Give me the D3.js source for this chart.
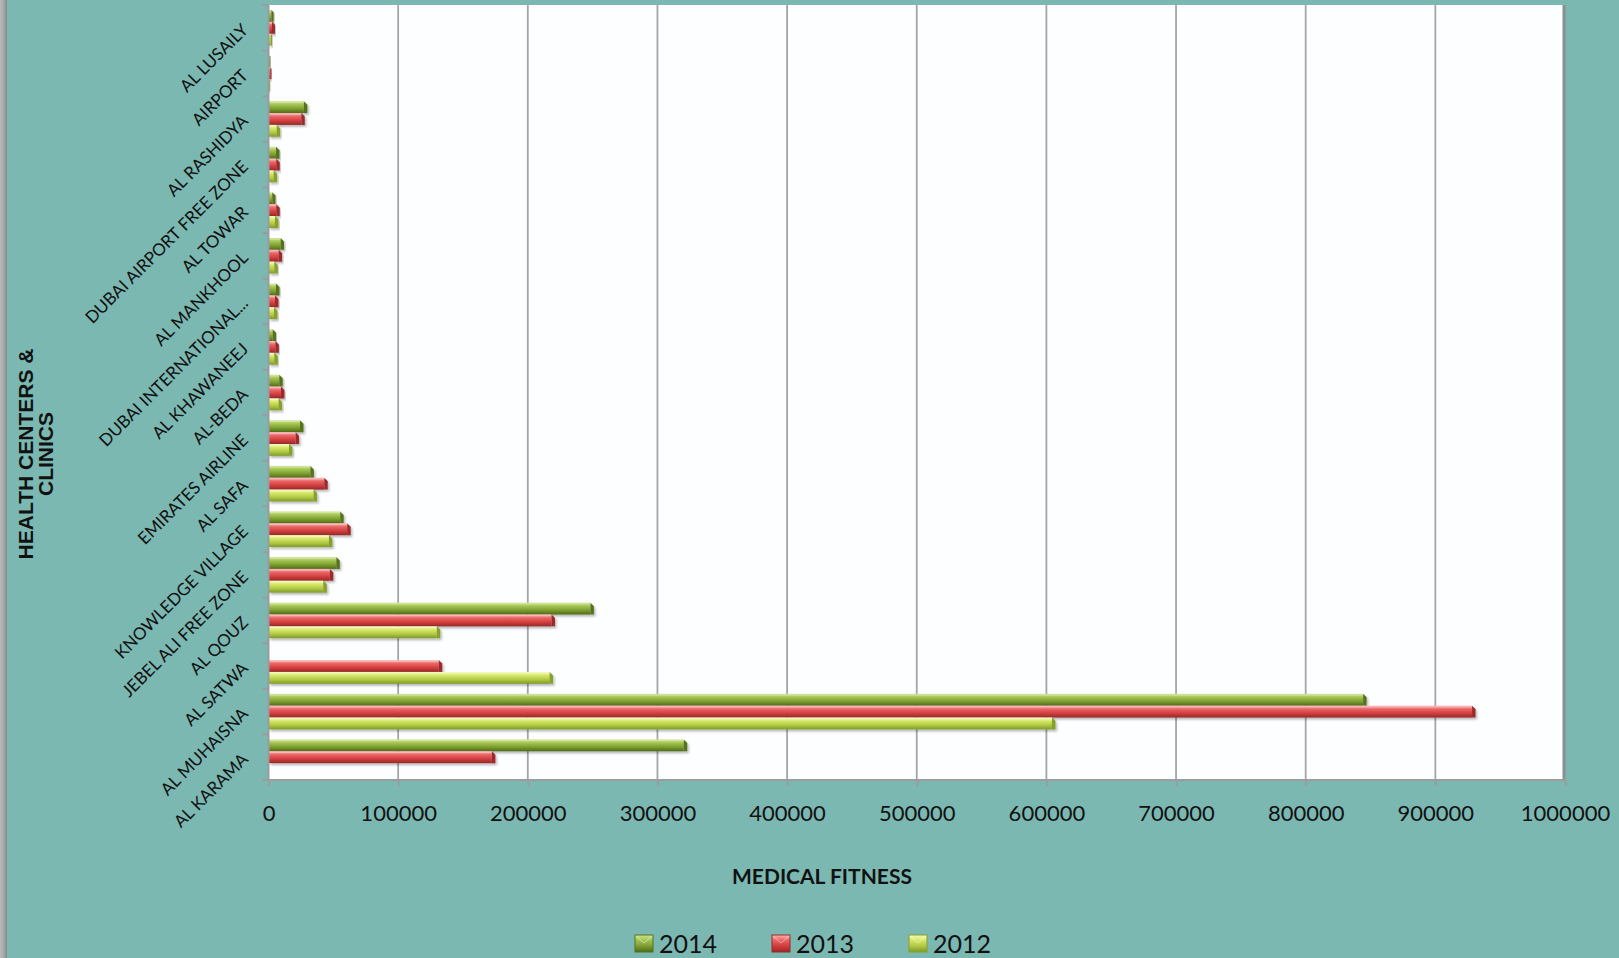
<!DOCTYPE html>
<html>
<head>
<meta charset="utf-8">
<script src="https://cdn.jsdelivr.net/npm/d3@7/dist/d3.min.js"></script>
<style>
  html, body { margin: 0; padding: 0; background: #7bb8b2; }
  svg { display: block; }
</style>
</head>
<body>
<script>
// ---------- DATA ----------
const categories = ["AL LUSAILY","AIRPORT","AL RASHIDYA","DUBAI AIRPORT FREE ZONE","AL TOWAR","AL MANKHOOL","DUBAI INTERNATIONAL...","AL KHAWANEEJ","AL-BEDA","EMIRATES AIRLINE","AL SAFA","KNOWLEDGE VILLAGE","JEBEL ALI FREE ZONE","AL QOUZ","AL SATWA","AL MUHAISNA","AL KARAMA"];
const seriesNames = ["2014","2013","2012"];
const values2014 = [4000, 1500, 30000, 8500, 5400, 12000, 8500, 5900, 11000, 27000, 35000, 58000, 55000, 251000, 0, 847000, 323000];
const values2013 = [5000, 2300, 28000, 8700, 8700, 10500, 7700, 8000, 12300, 23600, 45700, 63400, 50000, 221000, 134000, 931000, 175000];
const values2012 = [2800, 1300, 9000, 6700, 7700, 7200, 6900, 7200, 10500, 18500, 37500, 49300, 45000, 132500, 219500, 607000, 0];
const xTicks = [0,100000,200000,300000,400000,500000,600000,700000,800000,900000,1000000];
const xTitle = "MEDICAL FITNESS";
const yTitleLines = ["HEALTH CENTERS &", "CLINICS"];

const seriesValues = { "2014": values2014, "2013": values2013, "2012": values2012 };

// ---------- LAYOUT ----------
const W = 1619, H = 958;
const plot = { left: 268.5, right: 1565, top: 5, bottom: 780 };

const svg = d3.select("body").append("svg").attr("width", W).attr("height", H);
const defs = svg.append("defs");

// gradients
const palettes = {
  "2014": ["#cfe38a", "#a3c452", "#7b9d30", "#4f6b19"],
  "2013": ["#fbb2b2", "#ea6363", "#d13d3d", "#962828"],
  "2012": ["#f8fbb8", "#d6e766", "#afc845", "#7f9a26"]
};
const capColors = { "2014": "#56731c", "2013": "#9c2b2b", "2012": "#86a02a" };
Object.entries(palettes).forEach(([k, c]) => {
  const g = defs.append("linearGradient").attr("id", "g" + k)
    .attr("x1", 0).attr("y1", 0).attr("x2", 0).attr("y2", 1);
  g.append("stop").attr("offset", "0%").attr("stop-color", c[0]);
  g.append("stop").attr("offset", "30%").attr("stop-color", c[1]);
  g.append("stop").attr("offset", "65%").attr("stop-color", c[2]);
  g.append("stop").attr("offset", "100%").attr("stop-color", c[3]);
});
const sh = defs.append("filter").attr("id", "shadow").attr("x", "-5%").attr("y", "-30%").attr("width", "115%").attr("height", "190%");
sh.append("feDropShadow").attr("dx", 1.5).attr("dy", 2).attr("stdDeviation", 1.3)
  .attr("flood-color", "#000").attr("flood-opacity", 0.28);

const stripe = defs.append("linearGradient").attr("id", "stripe").attr("x1", 0).attr("x2", 1).attr("y1", 0).attr("y2", 0);
stripe.append("stop").attr("offset", "0%").attr("stop-color", "#b8bcbc");
stripe.append("stop").attr("offset", "60%").attr("stop-color", "#9ea5a4");
stripe.append("stop").attr("offset", "100%").attr("stop-color", "#7f8a89");

// background
svg.append("rect").attr("width", W).attr("height", H).attr("fill", "#7bb8b2");
svg.append("rect").attr("x", 0).attr("y", 0).attr("width", 7).attr("height", H).attr("fill", "url(#stripe)");

// plot area
svg.append("rect")
  .attr("x", plot.left).attr("y", plot.top)
  .attr("width", plot.right - plot.left).attr("height", plot.bottom - plot.top)
  .attr("fill", "#fdfeff");
// right border shadow
svg.append("line").attr("x1", plot.right - 1).attr("x2", plot.right - 1)
  .attr("y1", plot.top).attr("y2", plot.bottom)
  .attr("stroke", "#8a8f90").attr("stroke-width", 3);

// ---------- SCALES ----------
const x = d3.scaleLinear().domain([0, 1000000]).range([plot.left, plot.right]);
const y = d3.scaleBand().domain(categories).range([plot.top, plot.bottom])
  .paddingInner(0.22).paddingOuter(0.11);
const ySub = d3.scaleBand().domain(seriesNames).range([0, y.bandwidth()]);

// gridlines
svg.append("g").selectAll("line").data(xTicks.slice(1, -1)).join("line")
  .attr("x1", d => x(d)).attr("x2", d => x(d))
  .attr("y1", plot.top).attr("y2", plot.bottom)
  .attr("stroke", "#a3a6a8").attr("stroke-width", 1.8);

// ---------- BARS ----------
const barData = [];
categories.forEach((c, i) => {
  seriesNames.forEach(s => {
    barData.push({ cat: c, series: s, value: seriesValues[s][i] });
  });
});

const barsG = svg.append("g");
const bars = barsG.selectAll("g.bar").data(barData.filter(d => d.value > 0)).join("g")
  .attr("class", "bar").attr("filter", "url(#shadow)");

bars.each(function(d) {
  const g = d3.select(this);
  const x0 = x(0) + 0.5;
  const x1 = x(d.value);
  const y0 = y(d.cat) + ySub(d.series);
  const h = ySub.bandwidth();
  const capW = Math.min(3.5, Math.max(1, (x1 - x0) * 0.5));
  g.append("rect")
    .attr("x", x0).attr("y", y0)
    .attr("width", Math.max(0.5, x1 - x0 - capW)).attr("height", h)
    .attr("fill", "url(#g" + d.series + ")");
  g.append("path")
    .attr("d", `M${x1 - capW},${y0} L${x1},${y0 + capW} L${x1},${y0 + h} L${x1 - capW},${y0 + h} Z`)
    .attr("fill", capColors[d.series]);
  g.append("line")
    .attr("x1", x0).attr("x2", x1 - capW)
    .attr("y1", y0 + 1.2).attr("y2", y0 + 1.2)
    .attr("stroke", "#ffffff").attr("stroke-opacity", 0.35).attr("stroke-width", 1);
});

// ---------- AXES ----------
const axisColor = "#9a9c9e";
svg.append("line").attr("x1", plot.left).attr("x2", plot.left)
  .attr("y1", plot.top).attr("y2", plot.bottom)
  .attr("stroke", axisColor).attr("stroke-width", 2);
const boundaries = categories.map(c => y(c) - y.step() * y.paddingInner() / 2).concat([plot.bottom]);
svg.append("g").selectAll("line").data(boundaries).join("line")
  .attr("x1", plot.left - 6).attr("x2", plot.left)
  .attr("y1", d => d).attr("y2", d => d)
  .attr("stroke", axisColor).attr("stroke-width", 2);

svg.append("line").attr("x1", plot.left).attr("x2", plot.right)
  .attr("y1", plot.bottom).attr("y2", plot.bottom)
  .attr("stroke", axisColor).attr("stroke-width", 2);

const xAxis = d3.axisBottom(x).tickValues(xTicks).tickFormat(d3.format("d")).tickSize(6).tickPadding(19);
const xg = svg.append("g").attr("transform", `translate(0,${plot.bottom})`).call(xAxis);
xg.select(".domain").remove();
xg.selectAll(".tick line").attr("stroke", axisColor).attr("stroke-width", 2);
xg.selectAll(".tick text")
  .attr("fill", "#111").attr("font-family", "Lato, 'Open Sans', sans-serif").attr("font-size", 22);

// category labels
svg.append("g").selectAll("text").data(categories).join("text")
  .attr("transform", d => `translate(245,${y(d) + y.bandwidth() / 2 - 1}) rotate(-45)`)
  .attr("text-anchor", "end").attr("dy", "0.35em")
  .attr("font-family", "Lato, 'Open Sans', sans-serif").attr("font-size", 17)
  .attr("fill", "#111")
  .text(d => d);

// x title
svg.append("text").attr("x", 822).attr("y", 884)
  .attr("text-anchor", "middle")
  .attr("font-family", "Lato, 'Open Sans', sans-serif").attr("font-weight", "bold").attr("font-size", 21)
  .attr("fill", "#111").text(xTitle);

// y title
const yt = svg.append("text")
  .attr("transform", "translate(0,454) rotate(-90)")
  .attr("text-anchor", "middle")
  .attr("font-family", "'Liberation Sans', Arial, sans-serif").attr("font-weight", "bold").attr("font-size", 21)
  .attr("fill", "#111");
yt.selectAll("tspan").data(yTitleLines).join("tspan")
  .attr("x", 0).attr("y", (d, i) => 32.5 + i * 20.5)
  .text(d => d);

// ---------- LEGEND ----------
const legendX = { "2014": 635, "2013": 772, "2012": 909 };
const lg = svg.append("g");
seriesNames.forEach(s => {
  const gx = legendX[s];
  lg.append("rect").attr("x", gx).attr("y", 935).attr("width", 18).attr("height", 17)
    .attr("fill", "url(#g" + s + ")").attr("stroke", capColors[s]).attr("stroke-width", 1);
  lg.append("path").attr("d", `M${gx + 1},${936} L${gx + 9},${943} L${gx + 17},${936}`)
    .attr("fill", "none").attr("stroke", "#ffffff").attr("stroke-opacity", 0.45).attr("stroke-width", 1);
  lg.append("text").attr("x", gx + 24).attr("y", 952.5)
    .attr("font-family", "Lato, 'Open Sans', sans-serif").attr("font-size", 25)
    .attr("fill", "#111").text(s);
});
</script>
</body>
</html>
